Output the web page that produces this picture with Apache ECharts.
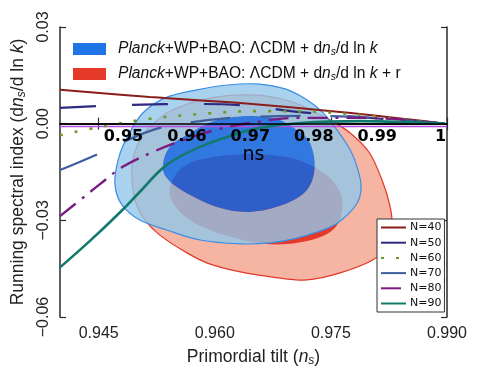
<!DOCTYPE html>
<html>
<head>
<meta charset="utf-8">
<script src="https://cdn.jsdelivr.net/npm/echarts@6/dist/echarts.min.js"></script>
<style>
html, body { margin: 0; padding: 0; background: #fff; }
#chart { width: 479px; height: 377px; }
</style>
</head>
<body>
<div id="chart"></div>
<script>
// axis ticks
var xTicks = [0.945, 0.960, 0.975, 0.990];
var nsTicks = [0.95, 0.96, 0.97, 0.98, 0.99, 1.00];

// contours, points are [ns, dns/dlnk]
var blueOuter = [[0.9471, -0.0190], [0.9475, -0.0113], [0.9487, -0.0041], [0.9507, 0.0033], [0.9536, 0.0080],
  [0.9577, 0.0105], [0.9616, 0.0120], [0.9658, 0.0123], [0.9691, 0.0108], [0.9717, 0.0077], [0.9739, 0.0036],
  [0.9758, -0.0020], [0.9775, -0.0082], [0.9785, -0.0144], [0.9789, -0.0197], [0.9784, -0.0246], [0.9768, -0.0290],
  [0.9749, -0.0321], [0.9706, -0.0355], [0.9671, -0.0370], [0.9633, -0.0373], [0.9581, -0.0361], [0.9538, -0.0330],
  [0.9503, -0.0299], [0.9480, -0.0252]];
var blueInner = [[0.9533, -0.0128], [0.9542, -0.0072], [0.9568, -0.0029], [0.9603, 0.0011], [0.9645, 0.0024],
  [0.9680, 0.0015], [0.9706, -0.0020], [0.9723, -0.0060], [0.9729, -0.0134], [0.9719, -0.0206], [0.9688, -0.0252],
  [0.9645, -0.0274], [0.9603, -0.0259], [0.9559, -0.0209], [0.9538, -0.0169]];
var redOuter = [[0.9493, -0.0175], [0.9494, -0.0113], [0.9503, -0.0051], [0.9512, -0.0020], [0.9538, 0.0033],
  [0.9572, 0.0067], [0.9603, 0.0083], [0.9633, 0.0089], [0.9665, 0.0086], [0.9704, 0.0064], [0.9749, 0.0011],
  [0.9775, -0.0029], [0.9800, -0.0091], [0.9816, -0.0175], [0.9826, -0.0252], [0.9829, -0.0314], [0.9822, -0.0383],
  [0.9804, -0.0423], [0.9762, -0.0463], [0.9719, -0.0485], [0.9675, -0.0476], [0.9633, -0.0460], [0.9594, -0.0436],
  [0.9564, -0.0401], [0.9529, -0.0346], [0.9507, -0.0290], [0.9497, -0.0237]];
var redInner = [[0.9542, -0.0221], [0.9549, -0.0159], [0.9568, -0.0122], [0.9600, -0.0103], [0.9645, -0.0094],
  [0.9691, -0.0103], [0.9723, -0.0128], [0.9749, -0.0169], [0.9763, -0.0221], [0.9764, -0.0274], [0.9755, -0.0324],
  [0.9733, -0.0355], [0.9697, -0.0373], [0.9662, -0.0373], [0.9626, -0.0355], [0.9587, -0.0324], [0.9559, -0.0283]];

// model predictions
var nNames = ['N=40', 'N=50', 'N=60', 'N=70', 'N=80', 'N=90'];
var n40 = [[0.9400, 0.0105], [0.9516, 0.0083], [0.9633, 0.0064], [0.9762, 0.0036], [0.9897, 0.0000]];
var n50 = [[0.9400, 0.0049], [0.9490, 0.0058], [0.9581, 0.0061], [0.9645, 0.0055], [0.9710, 0.0036], [0.9897, 0.0000]];
var n60 = [[0.9400, -0.0036], [0.9452, -0.0010], [0.9516, 0.0015], [0.9581, 0.0030], [0.9658, 0.0039],
  [0.9736, 0.0036], [0.9813, 0.0021], [0.9897, 0.0000]];
var n70 = [[0.9400, -0.0144], [0.9452, -0.0091], [0.9490, -0.0048], [0.9529, -0.0013], [0.9581, 0.0008],
  [0.9645, 0.0021], [0.9736, 0.0024], [0.9897, 0.0000]];
var n80 = [[0.9400, -0.0287], [0.9426, -0.0237], [0.9452, -0.0187], [0.9481, -0.0134], [0.9520, -0.0088],
  [0.9559, -0.0051], [0.9600, -0.0020], [0.9645, 0.0002], [0.9710, 0.0018], [0.9788, 0.0018], [0.9897, 0.0000]];
var n90 = [[0.9400, -0.0446], [0.9439, -0.0363], [0.9478, -0.0274], [0.9503, -0.0212], [0.9538, -0.0128],
  [0.9581, -0.0072], [0.9624, -0.0035], [0.9658, -0.0013], [0.9710, 0.0002], [0.9788, 0.0008], [0.9897, 0.0000]];
var flatLine = [[0.94, -0.0009], [0.99, -0.0009]];

var blueName = 'running';
var redName = 'running+r';
var legendText = {};
legendText[blueName] = '{i|Planck}+WP+BAO: ΛCDM + d{i|n}{s|s}/d ln {i|k}';
legendText[redName] = '{i|Planck}+WP+BAO: ΛCDM + d{i|n}{s|s}/d ln {i|k} + r';

var FONT = 'Liberation Sans';

function area(pts) {
  var a = 0;
  for (var i = 0; i < pts.length; i++) {
    var p = pts[i], q = pts[(i + 1) % pts.length];
    a += p[0] * q[1] - q[0] * p[1];
  }
  return a / 2;
}

// closed catmull-rom curve through the points, as svg path data
function smoothPath(pts) {
  var n = pts.length;
  var d = 'M ' + pts[0][0] + ' ' + pts[0][1];
  for (var i = 0; i < n; i++) {
    var p0 = pts[(i - 1 + n) % n], p1 = pts[i], p2 = pts[(i + 1) % n], p3 = pts[(i + 2) % n];
    var c1x = p1[0] + (p2[0] - p0[0]) / 6, c1y = p1[1] + (p2[1] - p0[1]) / 6;
    var c2x = p2[0] - (p3[0] - p1[0]) / 6, c2y = p2[1] - (p3[1] - p1[1]) / 6;
    d += ' C ' + c1x + ' ' + c1y + ' ' + c2x + ' ' + c2y + ' ' + p2[0] + ' ' + p2[1];
  }
  return d + ' Z';
}

function contour(name, outer, hole, fill, stroke, legendColor, z) {
  return {
    type: 'custom',
    name: name,
    xAxisIndex: 0,
    yAxisIndex: 0,
    z: z,
    silent: true,
    itemStyle: { color: legendColor },
    data: [[0.96, -0.02]],
    renderItem: function (params, api) {
      var o = outer.map(function (p) { return api.coord(p); });
      var d = smoothPath(o);
      if (hole) {
        var h = hole.map(function (p) { return api.coord(p); });
        if ((area(h) > 0) === (area(o) > 0)) h.reverse();
        d += ' ' + smoothPath(h);
      }
      var kids = [{ type: 'path', shape: { pathData: d }, style: { fill: fill, stroke: null } }];
      if (stroke) {
        kids.push({ type: 'path', shape: { pathData: smoothPath(o) }, style: { fill: null, stroke: stroke, lineWidth: 1.2 } });
      }
      return { type: 'group', children: kids };
    }
  };
}

function nLine(name, data, color, type, width) {
  return {
    type: 'line',
    name: name,
    xAxisIndex: 0,
    yAxisIndex: 0,
    data: data,
    smooth: 0.4,
    symbol: 'none',
    showSymbol: false,
    z: 4,
    itemStyle: { color: color },
    lineStyle: { color: color, width: width, type: type, cap: 'butt' }
  };
}

var chart = echarts.init(document.getElementById('chart'));

var axisLine = { show: true, lineStyle: { color: '#2b2b2b', width: 1.5 } };
var tickIn = { show: true, inside: true, length: 6, lineStyle: { color: '#2b2b2b', width: 1.2 } };

var option = {
  animation: false,
  backgroundColor: '#fff',
  grid: [
    { left: 60, right: 32, top: 27, bottom: 60, containLabel: false, outerBoundsMode: 'none' },
    { left: 60, right: 32, top: 27, bottom: 253, containLabel: false, outerBoundsMode: 'none' }
  ],
  legend: [
    {
      left: 73, top: 40, orient: 'vertical', padding: 0, itemGap: 7,
      itemWidth: 33, itemHeight: 12,
      data: [{ name: blueName, icon: 'rect' }, { name: redName, icon: 'rect' }],
      formatter: function (n) { return legendText[n]; },
      textStyle: {
        fontFamily: FONT, fontSize: 15.6, color: '#111', lineHeight: 18, padding: [0, 0, 0, 7],
        rich: {
          i: { fontFamily: FONT, fontSize: 15.6, fontStyle: 'italic', color: '#111', lineHeight: 18 },
          s: { fontFamily: FONT, fontSize: 10.5, fontStyle: 'italic', color: '#111', lineHeight: 11, verticalAlign: 'bottom' }
        }
      }
    },
    {
      left: 377, top: 219, orient: 'vertical', padding: [3, 3, 3, 3], itemGap: 4.2,
      itemWidth: 25, itemHeight: 10,
      backgroundColor: '#fff', borderColor: '#333', borderWidth: 1,
      itemStyle: { opacity: 0 },
      data: nNames,
      textStyle: { fontFamily: 'DejaVu Sans', fontSize: 11, color: '#111', lineHeight: 10, padding: [0, 0, 0, -1] }
    }
  ],
  xAxis: [
    {
      gridIndex: 0, type: 'value', position: 'bottom', min: 0.94, max: 0.99,
      axisLine: axisLine, splitLine: { show: false },
      axisTick: Object.assign({ customValues: xTicks }, tickIn),
      axisLabel: {
        customValues: xTicks, margin: 9, color: '#222', fontFamily: FONT, fontSize: 16,
        formatter: function (v) { return v.toFixed(3); }
      },
      name: 'Primordial tilt ({i|n}{s|s})', nameLocation: 'middle', nameGap: 27,
      nameTextStyle: {
        fontFamily: FONT, fontSize: 17.5, color: '#222', lineHeight: 20,
        rich: {
          i: { fontFamily: FONT, fontSize: 17.5, fontStyle: 'italic', color: '#222', lineHeight: 20 },
          s: { fontFamily: FONT, fontSize: 12, fontStyle: 'italic', color: '#222', lineHeight: 13, verticalAlign: 'bottom' }
        }
      }
    },
    {
      gridIndex: 0, type: 'value', position: 'top', min: 0.94, max: 0.99,
      axisLine: axisLine, splitLine: { show: false },
      axisTick: Object.assign({ customValues: xTicks }, tickIn),
      axisLabel: { show: false }
    },
    {
      gridIndex: 1, type: 'value', position: 'bottom', min: 0.94, max: 1.001, z: 6,
      axisLine: { show: true, onZero: false, lineStyle: { color: '#000', width: 1.5 } },
      splitLine: { show: false }, axisTick: { show: false },
      axisLabel: {
        customValues: nsTicks, margin: 5, color: '#000', fontFamily: 'DejaVu Sans', fontWeight: 'bold', fontSize: 16,
        formatter: function (v) { return Math.abs(v - 1) < 1e-9 ? '1' : v.toFixed(2); }
      },
      name: 'ns', nameLocation: 'middle', nameGap: 17,
      nameTextStyle: { fontFamily: 'DejaVu Sans', fontSize: 19, color: '#000' }
    }
  ],
  yAxis: [
    {
      gridIndex: 0, type: 'value', position: 'left', min: -0.06, max: 0.03, interval: 0.03,
      axisLine: axisLine, splitLine: { show: false }, axisTick: tickIn,
      axisLabel: {
        rotate: 90, margin: 8, color: '#222', fontFamily: FONT, fontSize: 16,
        formatter: function (v) {
          if (Math.abs(v) < 1e-9) return '0.00';
          return (v < 0 ? '\u2212' : '') + Math.abs(v).toFixed(2);
        }
      },
      name: 'Running spectral index (d{i|n}{s|s}/d ln {i|k})', nameLocation: 'middle', nameGap: 32,
      nameTextStyle: {
        fontFamily: FONT, fontSize: 17.5, color: '#222', lineHeight: 20,
        rich: {
          i: { fontFamily: FONT, fontSize: 17.5, fontStyle: 'italic', color: '#222', lineHeight: 20 },
          s: { fontFamily: FONT, fontSize: 12, fontStyle: 'italic', color: '#222', lineHeight: 13, verticalAlign: 'bottom' }
        }
      }
    },
    {
      gridIndex: 0, type: 'value', position: 'right', min: -0.06, max: 0.03, interval: 0.03,
      axisLine: axisLine, splitLine: { show: false }, axisTick: tickIn, axisLabel: { show: false }
    },
    {
      gridIndex: 1, type: 'value', min: 0, max: 1, show: false
    }
  ],
  series: [
    contour('red95', redOuter, null, '#f6b4a3', '#e0392a', '#f6b4a3', 1),
    contour(redName, redInner, null, '#e5392a', null, '#e5392a', 1),
    contour('blue95', blueOuter, blueInner, 'rgba(146,199,234,0.8)', '#3b8fe6', '#93c7ea', 2),
    contour(blueName, blueInner, null, 'rgba(0,105,240,0.8)', null, '#1f75e6', 2),
    {
      type: 'line', name: 'flat', xAxisIndex: 0, yAxisIndex: 0, data: flatLine,
      symbol: 'none', z: 3, lineStyle: { color: '#b24fe0', width: 1.6 }
    },
    nLine('N=40', n40, '#8b1c1c', 'solid', 2),
    nLine('N=50', n50, '#2e2a80', [36, 36], 2.2),
    nLine('N=60', n60, '#6d9a2a', [3, 12], 2.6),
    nLine('N=70', n70, '#3f5f9c', [40, 30], 2.2),
    nLine('N=80', n80, '#7a1a82', [20, 8, 3, 8], 2.4),
    nLine('N=90', n90, '#127a6c', 'solid', 2.6)
  ]
};

chart.setOption(option);
</script>
</body>
</html>
